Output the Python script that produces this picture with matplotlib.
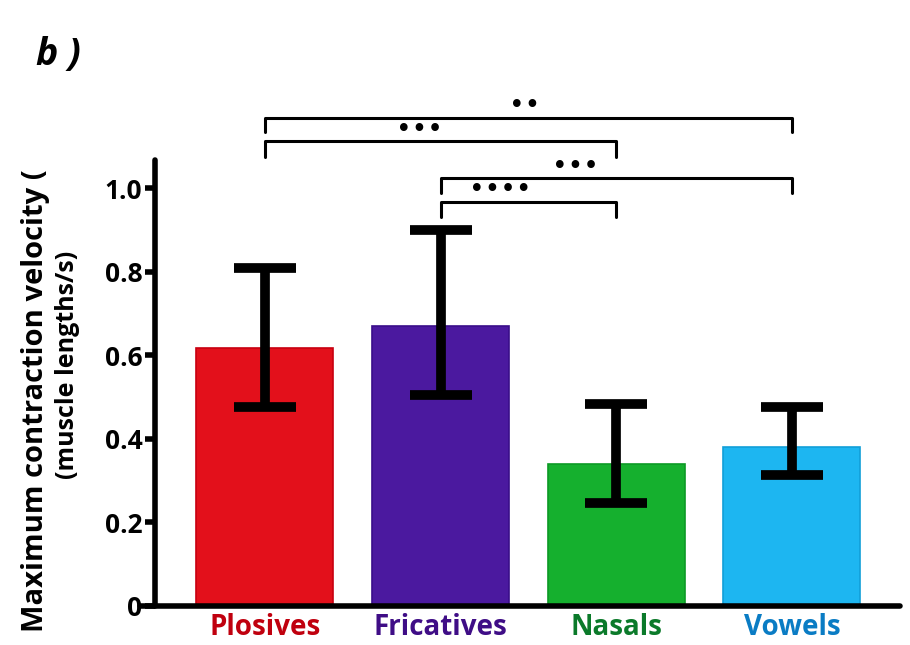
import matplotlib.pyplot as plt
import numpy as np

plt.rcParams['font.family'] = ['Open Sans', 'DejaVu Sans']

# data
categories = ['Plosives', 'Fricatives', 'Nasals', 'Vowels']
means = [0.617, 0.670, 0.340, 0.380]
err_upper = [0.809, 0.900, 0.483, 0.476]
err_lower = [0.476, 0.505, 0.246, 0.313]
bar_colors = ['#E3101B', '#4B199F', '#15B02E', '#1DB6F1']
edge_colors = ['#C80010', '#3A0E8A', '#0C9A25', '#129FD8']
label_colors = ['#C0000E', '#3F0D86', '#0B7A2A', '#0A7CC4']
yticks = [0, 0.2, 0.4, 0.6, 0.8, 1.0]
ytick_labels = ['0', '0.2', '0.4', '0.6', '0.8', '1.0']

# significance brackets: (left, right, bar height, drop, text, text x, text y)
brackets = [
    (0, 3, 1.167, 0.033, '••', 1.48, 1.196),
    (0, 2, 1.112, 0.038, '•••', 0.88, 1.139),
    (1, 3, 1.024, 0.036, '•••', 1.77, 1.050),
    (1, 2, 0.967, 0.036, '••••', 1.34, 0.995),
]

x = np.arange(len(categories))
means = np.array(means)
yerr = [means - np.array(err_lower), np.array(err_upper) - means]

fig = plt.figure(figsize=(9.1, 6.45), dpi=100)
ax = fig.add_axes([140 / 910, 39 / 645, 760 / 910, 446 / 645])

ax.bar(x, means, width=0.78, color=bar_colors, edgecolor=edge_colors, linewidth=1.2, zorder=2)
ax.errorbar(x, means, yerr=yerr, fmt='none', ecolor='black', elinewidth=7,
            capsize=22, capthick=7, zorder=3)

ax.set_xlim(-0.711, 3.615)
ax.set_ylim(0, 1.067)

ax.spines['top'].set_visible(False)
ax.spines['right'].set_visible(False)
ax.spines['left'].set_position(('data', -0.626))
ax.spines['left'].set_linewidth(4)
ax.spines['bottom'].set_linewidth(4)
ax.spines['left'].set_capstyle('round')
ax.spines['bottom'].set_capstyle('round')

ax.set_yticks(yticks)
ax.set_yticklabels(ytick_labels, fontsize=19, fontweight='bold')
ax.tick_params(axis='y', length=7, width=4, pad=2)
ax.set_xticks(x)
ax.set_xticklabels(categories, fontsize=20, fontweight='bold')
ax.tick_params(axis='x', length=0, pad=5)
for lab, c in zip(ax.get_xticklabels(), label_colors):
    lab.set_color(c)

# brackets
for l, r, h, d, txt, tx, ty in brackets:
    ax.plot([l, l, r, r], [h - d, h, h, h - d], color='black', lw=2.2,
            clip_on=False, solid_capstyle='round', solid_joinstyle='round')
    ax.text(tx, ty, txt, ha='center', va='center', fontsize=19, family='DejaVu Sans',
            clip_on=False)

# y labels
fig.text(36 / 910, 1 - 632 / 645, 'Maximum contraction velocity (', rotation=90,
         rotation_mode='anchor', ha='left', va='center', fontsize=21, fontweight='bold')
fig.text(68 / 910, 1 - 365 / 645, '(muscle lengths/s)', rotation=90,
         rotation_mode='anchor', ha='center', va='center', fontsize=18, fontweight='bold')

# panel label
fig.text(36 / 910, 1 - 55 / 645, 'b )', fontsize=27, fontweight='bold', style='italic',
         ha='left', va='center')

fig.savefig('out.png', dpi=100)
